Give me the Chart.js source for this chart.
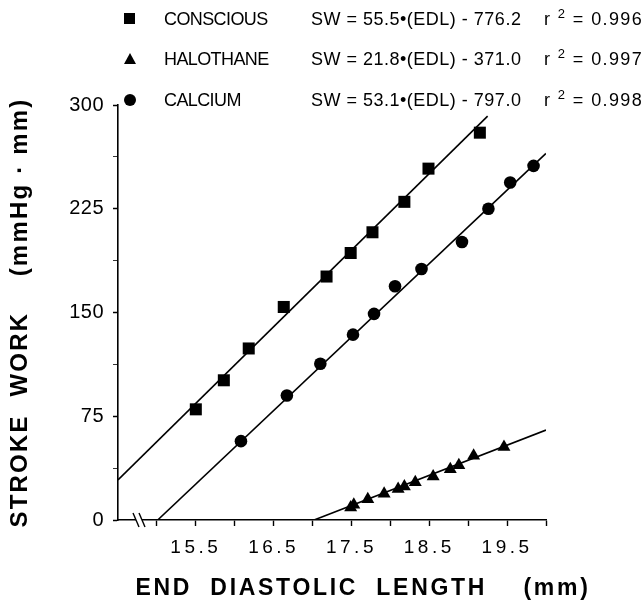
<!DOCTYPE html>
<html>
<head>
<meta charset="utf-8">
<script src="https://cdn.jsdelivr.net/npm/chart.js@4.4.1/dist/chart.umd.min.js"></script>
<style>
  body { margin: 0; background: #fff; }
  #wrap { position: relative; width: 644px; height: 607px; }
  #legend { position: absolute; left: 0; top: 0; width: 644px; height: 110px;
            font-family: "Liberation Sans", Arial, sans-serif; font-size: 18px; color: #000; }
  .cell { position: absolute; line-height: 22px; white-space: pre; }
  .name { letter-spacing: -0.6px; }
  .eq { letter-spacing: 0.5px; }
  .r2 { letter-spacing: 1.4px; }
  .mark { position: absolute; }
  .mark.square { width: 11px; height: 11px; background: #000; }
  .mark.circle { width: 12px; height: 12px; background: #000; border-radius: 50%; }
  .mark.triangle { width: 0; height: 0; border-left: 6.5px solid transparent;
                   border-right: 6.5px solid transparent; border-bottom: 11px solid #000; }
  sup { font-size: 13px; line-height: 0; vertical-align: 7px; }
</style>
</head>
<body>
<div id="wrap">
  <canvas id="chart" width="644" height="607"></canvas>
  <div id="legend"></div>
</div>
<script>
// measured data (EDL in mm, SW in mmHg·mm)
const consciousEDL = [15.50, 15.86, 16.18, 16.63, 17.18, 17.49, 17.77, 18.18, 18.49, 19.15];
const consciousSW  = [80, 101, 124, 154, 176, 193, 208, 230, 254, 280];

const halothaneEDL = [17.49, 17.53, 17.71, 17.92, 18.10, 18.18, 18.32, 18.55, 18.77, 18.88, 19.07, 19.46];
const halothaneSW  = [9, 11, 15, 19, 22.5, 24.3, 27.2, 31.5, 36.6, 39.5, 46.4, 52.8];

const calciumEDL = [16.08, 16.67, 17.10, 17.52, 17.79, 18.06, 18.40, 18.92, 19.26, 19.54, 19.84];
const calciumSW  = [57, 90, 113, 134, 149, 169, 181.5, 201, 225, 244, 256];

// regression line end points
const consciousFitEDL = [14.5, 19.25];
const consciousFitSW  = [29, 292];
const halothaneFitEDL = [17.02, 20.0];
const halothaneFitSW  = [0, 65];
const calciumFitEDL   = [15.01, 20.0];
const calciumFitSW    = [0, 265];

const xTickLabels = ['15.5', '16.5', '17.5', '18.5', '19.5'];
const yTickLabels = ['0', '75', '150', '225', '300'];
const breakEDL = 14.77;

const legendNames = ['CONSCIOUS', 'HALOTHANE', 'CALCIUM'];
const legendMarks = ['square', 'triangle', 'circle'];
const legendEquations = ['SW = 55.5\u2022(EDL) - 776.2', 'SW = 21.8\u2022(EDL) - 371.0', 'SW = 53.1\u2022(EDL) - 797.0'];
const legendR2 = ['0.996', '0.997', '0.998'];

const FONT = "'Liberation Sans', Arial, sans-serif";

function pairs(xs, ys) {
    return xs.map((x, i) => ({ x: x, y: ys[i] }));
}

// linear scale that draws its labels/titles with letter spacing like the typeset figure
class TrackedScale extends Chart.LinearScale {
    drawLabels(area) {
        const ctx = this.ctx;
        ctx.save();
        ctx.letterSpacing = this.id === 'x' ? '3.5px' : '0.5px';
        super.drawLabels(area);
        ctx.restore();
    }
    drawTitle() {
        const ctx = this.ctx;
        const box = { left: this.left, right: this.right, top: this.top, bottom: this.bottom };
        if (this.id === 'x') {
            this.left += 11;
            this.right += 51;
        } else {
            this.top -= 20;
            this.bottom += 20;
        }
        ctx.save();
        ctx.letterSpacing = this.id === 'x' ? '2.7px' : '2.2px';
        super.drawTitle();
        ctx.restore();
        Object.assign(this, box);
    }
}
TrackedScale.id = 'tracked';
Chart.register(TrackedScale);

const axisBreak = {
    id: 'axisBreak',
    afterDraw(chart) {
        const { ctx, scales: { x, y } } = chart;
        const cx = x.getPixelForValue(breakEDL);
        const cy = y.getPixelForValue(0);
        ctx.save();
        ctx.fillStyle = '#fff';
        ctx.fillRect(cx - 3, cy - 2, 6, 4);
        ctx.strokeStyle = '#000';
        ctx.lineWidth = 1.4;
        [-3, 3].forEach(d => {
            ctx.beginPath();
            ctx.moveTo(cx + d - 3, cy - 7);
            ctx.lineTo(cx + d + 3, cy + 7);
            ctx.stroke();
        });
        ctx.restore();
    }
};

function fitLine(xs, ys) {
    return {
        type: 'line',
        data: pairs(xs, ys),
        borderColor: '#000',
        borderWidth: 1.6,
        pointRadius: 0,
        fill: false
    };
}

function markers(xs, ys, style, radius) {
    return {
        data: pairs(xs, ys),
        pointStyle: style,
        pointRadius: radius,
        backgroundColor: '#000',
        borderColor: '#000',
        borderWidth: 0
    };
}

new Chart(document.getElementById('chart'), {
    type: 'scatter',
    data: {
        datasets: [
            fitLine(consciousFitEDL, consciousFitSW),
            fitLine(halothaneFitEDL, halothaneFitSW),
            fitLine(calciumFitEDL, calciumFitSW),
            markers(consciousEDL, consciousSW, 'rect', 8.5),
            markers(halothaneEDL, halothaneSW, 'triangle', 7.5),
            markers(calciumEDL, calciumSW, 'circle', 6.3)
        ]
    },
    options: {
        responsive: false,
        animation: false,
        layout: { padding: { left: 0, top: 105, right: 98, bottom: 0 } },
        plugins: { legend: { display: false }, tooltip: { enabled: false } },
        scales: {
            x: {
                type: 'tracked',
                min: 14.5,
                max: 20,
                afterFit: s => { s.height = 87; },
                border: { display: true, color: '#000', width: 1.6 },
                grid: { drawOnChartArea: false, drawTicks: true, tickLength: 6, tickColor: '#000', tickWidth: 1.4 },
                ticks: {
                    stepSize: 0.5,
                    autoSkip: false,
                    maxRotation: 0,
                    padding: 10,
                    color: '#000',
                    font: { family: FONT, size: 19 },
                    callback: v => {
                        if (v < 14.9) return null;
                        const s = v.toFixed(1);
                        return xTickLabels.includes(s) ? s : '';
                    }
                },
                title: {
                    display: true,
                    text: 'END  DIASTOLIC  LENGTH    (mm)',
                    color: '#000',
                    font: { family: FONT, size: 23, weight: 'bold' },
                    padding: { top: 0, bottom: 5 }
                }
            },
            y: {
                type: 'tracked',
                min: 0,
                max: 300,
                afterFit: s => { s.width = 118; },
                border: { display: true, color: '#000', width: 1.6 },
                grid: {
                    drawOnChartArea: false, drawTicks: true, tickLength: 5, tickColor: '#000',
                    tickWidth: c => (c.tick && yTickLabels.includes(String(c.tick.value)) ? 1.5 : 0.8)
                },
                ticks: {
                    stepSize: 37.5,
                    autoSkip: false,
                    padding: 9,
                    color: '#000',
                    font: { family: FONT, size: 20 },
                    callback: v => (yTickLabels.includes(String(v)) ? String(v) : '')
                },
                title: {
                    display: true,
                    text: 'STROKE  WORK    (mmHg \u00B7 mm)',
                    color: '#000',
                    font: { family: FONT, size: 24, weight: 'bold' },
                    padding: { top: 6, bottom: 0 }
                }
            }
        }
    },
    plugins: [axisBreak]
});

// legend block at the top of the figure
const rowCenters = [18.5, 58.5, 100];
const legend = document.getElementById('legend');
legendNames.forEach((name, i) => {
    const cy = rowCenters[i];
    const mark = document.createElement('div');
    mark.className = 'mark ' + legendMarks[i];
    mark.style.left = '124px';
    mark.style.top = (cy - 6) + 'px';
    legend.appendChild(mark);

    const cells = [
        { left: 164, html: name, cls: 'name' },
        { left: 311, html: legendEquations[i], cls: 'eq' },
        { left: 544, html: 'r <sup>2</sup> = ' + legendR2[i], cls: 'r2' }
    ];
    cells.forEach(c => {
        const span = document.createElement('div');
        span.className = 'cell ' + c.cls;
        span.style.left = c.left + 'px';
        span.style.top = (cy - 11) + 'px';
        span.innerHTML = c.html;
        legend.appendChild(span);
    });
});
</script>
</body>
</html>
